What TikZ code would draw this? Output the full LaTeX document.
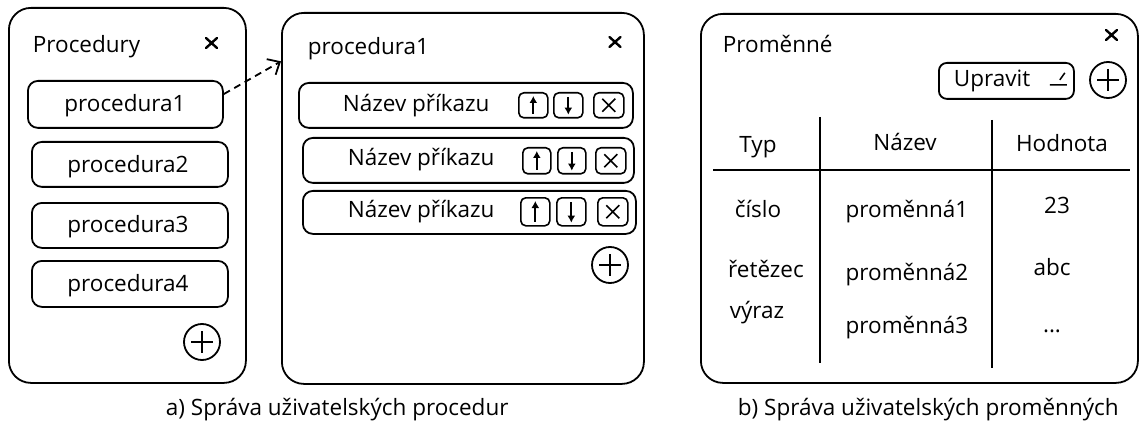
\documentclass[tikz,border=0pt]{standalone}
\usepackage{fontspec}
\setmainfont{Open Sans}
\usetikzlibrary{arrows.meta,calc}

\tikzset{
  panel/.style={draw, rounded corners=22, inner sep=0, anchor=north west},
  itembox/.style={draw, rounded corners=10, inner sep=0, anchor=north west},
  btn/.style={draw, rounded corners=5, inner sep=0, line width=1.6pt, anchor=north west},
  lbl/.style={inner sep=0, anchor=base},
  lblw/.style={inner sep=0, anchor=base west},
  closex/.style={minimum size=16, inner sep=0,
    path picture={\draw[line width=2.4pt, line cap=round]
      ($(path picture bounding box.center)+(-5.5,-5)$) -- ($(path picture bounding box.center)+(5.5,5)$)
      ($(path picture bounding box.center)+(-5.5,5)$) -- ($(path picture bounding box.center)+(5.5,-5)$);}},
  plusbtn/.style={draw, circle, minimum size=36, inner sep=0,
    path picture={\draw[line width=1.8pt]
      ($(path picture bounding box.center)+(-11,0)$) -- ($(path picture bounding box.center)+(11,0)$)
      ($(path picture bounding box.center)+(0,-11)$) -- ($(path picture bounding box.center)+(0,11)$);}},
  delbtn/.style={btn,
    path picture={\draw[line width=1.6pt]
      ($(path picture bounding box.center)+(-6.5,-6.5)$) -- ($(path picture bounding box.center)+(6.5,6.5)$)
      ($(path picture bounding box.center)+(-6.5,6.5)$) -- ($(path picture bounding box.center)+(6.5,-6.5)$);}},
  arr/.style={line width=1.8pt, -{Latex[length=7,width=8]}},
}

\begin{document}
\begin{tikzpicture}[x=1pt, y=-1pt, line width=1.8pt, line join=round,
  font=\fontsize{22.5}{27}\selectfont]
\useasboundingbox (0,0) rectangle (1141,425);

% ---------- list of procedures ----------
\node[panel, minimum width=237, minimum height=375] (w1) at (8,7) {};
\node[lblw] (t1) at (32,53) {Procedury};
\node[closex] (c1) at (211.5,43) {};
\node[itembox, minimum width=195, minimum height=47] (p1) at (27,80) {};
\node[itembox, minimum width=196, minimum height=45] (p2) at (31,141) {};
\node[itembox, minimum width=196, minimum height=45] (p3) at (31,202) {};
\node[itembox, minimum width=196, minimum height=46] (p4) at (31,260) {};
\node[lbl] (p1t) at (125,112) {procedura1};
\node[lbl] (p2t) at (128,172) {procedura2};
\node[lbl] (p3t) at (128,232) {procedura3};
\node[lbl] (p4t) at (128,291) {procedura4};
\node[plusbtn] (a1) at (202,342) {};

% ---------- commands of one procedure ----------
\node[panel, minimum width=362, minimum height=371] (w2) at (281,12) {};
\node[lblw] (t2) at (307,55) {procedura1};
\node[closex] (c2) at (615,42) {};
\node[itembox, minimum width=334, minimum height=45] (r1) at (298,82) {};
\node[itembox, minimum width=331, minimum height=45] (r2) at (302,137) {};
\node[itembox, minimum width=333, minimum height=43] (r3) at (302,190) {};
\node[lblw] (r1t) at (342,112) {Název příkazu};
\node[lblw] (r2t) at (347,165) {Název příkazu};
\node[lblw] (r3t) at (347,217) {Název příkazu};

\node[btn, minimum width=29, minimum height=25] (u1) at (518,92) {};
\node[btn, minimum width=29, minimum height=25] (d1) at (553,92) {};
\node[delbtn, minimum width=30, minimum height=25] (x1) at (593,92) {};
\node[btn, minimum width=28, minimum height=26] (u2) at (522,147) {};
\node[btn, minimum width=28, minimum height=26] (d2) at (557,147) {};
\node[delbtn, minimum width=30, minimum height=26] (x2) at (595,147) {};
\node[btn, minimum width=29, minimum height=28] (u3) at (520,197) {};
\node[btn, minimum width=29, minimum height=28] (d3) at (556,197) {};
\node[delbtn, minimum width=30, minimum height=28] (x3) at (597,197) {};
\foreach \b in {u1,u2,u3}
  \draw[arr] ([yshift=5]\b.south) -- ([yshift=-4]\b.north);
\foreach \b in {d1,d2,d3}
  \draw[arr] ([yshift=-5]\b.north) -- ([yshift=4]\b.south);
\node[plusbtn] (a2) at (610,265) {};

\draw[dashed, dash pattern=on 7pt off 5pt,
  -{Straight Barb[length=10,width=18]}] (p1.6) -- (w2.143);

% ---------- variables ----------
\node[panel, minimum width=437, minimum height=369] (w3) at (700,13) {};
\node[lblw] (t3) at (722,53) {Proměnné};
\node[closex] (c3) at (1111.5,35) {};
\node[itembox, rounded corners=8, minimum width=135, minimum height=36] (ed) at (938,62) {};
\node[lblw] (edt) at (953,87) {Upravit};
\draw[line width=1.5pt] ($(ed.east)+(-25,4)$) -- ($(ed.east)+(-8,4)$)
  ($(ed.east)+(-15,-1)$) -- ($(ed.east)+(-10,-8)$);
\node[plusbtn] (a3) at (1108,80) {};

\coordinate (hl) at (713,170);
\coordinate (hr) at (1130,170);
\coordinate (v1t) at (820,117);
\coordinate (v1b) at (820,363);
\coordinate (v2t) at (992,120);
\coordinate (v2b) at (992,368);
\draw (hl) -- (hr);
\draw (v1t) -- (v1b);
\draw (v2t) -- (v2b);

\node[lbl] (h1) at (758,153) {Typ};
\node[lbl] (h2) at (905,150) {Název};
\node[lbl] (h3) at (1062,152) {Hodnota};
\node[lbl] (k1) at (758,217) {číslo};
\node[lbl] (k2) at (766,277) {řetězec};
\node[lbl] (k3) at (757,318) {výraz};
\node[lbl] (n1) at (907,217) {proměnná1};
\node[lbl] (n2) at (907,280) {proměnná2};
\node[lbl] (n3) at (907,333) {proměnná3};
\node[lbl] (v1) at (1057,213) {23};
\node[lbl] (v2) at (1052,275) {abc};
\node[lbl] (v3) at (1052,332) {...};

% ---------- captions ----------
\node[lblw] (capa) at (165,415) {a) Správa uživatelských procedur};
\node[lblw] (capb) at (737,415) {b) Správa uživatelských proměnných};
\end{tikzpicture}
\end{document}
